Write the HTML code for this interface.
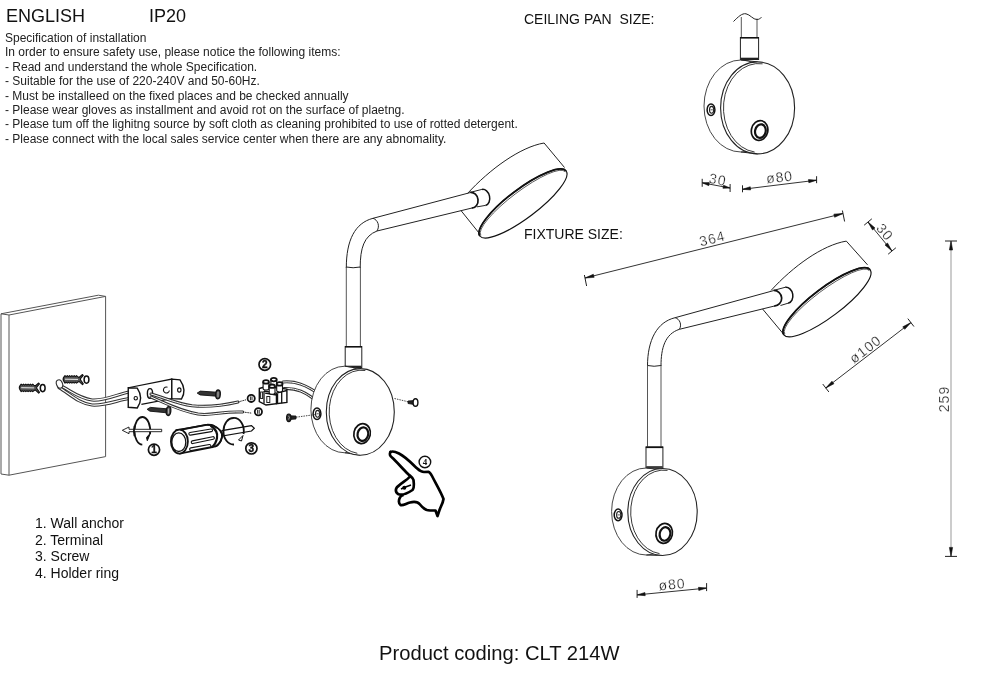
<!DOCTYPE html>
<html><head><meta charset="utf-8">
<style>
html,body{margin:0;padding:0;background:#fff;}
body{width:1000px;height:690px;position:relative;overflow:hidden;font-family:"Liberation Sans",sans-serif;color:#111;}
.t{position:absolute;white-space:nowrap;line-height:1;}
#spec{position:absolute;left:5px;top:31.3px;font-size:12px;line-height:14.4px;color:#222;white-space:pre;}
svg{position:absolute;left:0;top:0;}
.t,#spec,svg{will-change:transform;}
</style></head><body>
<svg width="1000" height="690" viewBox="0 0 1000 690">
<path d="M733.5,21.5 C738,17 742,13 746,13.8 C750,14.5 753,19.5 757,19.6 C759,19.6 760,18.2 761.5,17.5" fill="none" stroke="#222" stroke-width="1"/>
<line x1="741.3" y1="17" x2="741.3" y2="37.5" fill="none" stroke="#444" stroke-width="0.9"/>
<line x1="757" y1="18.5" x2="757" y2="37.5" fill="none" stroke="#444" stroke-width="0.9"/>
<rect x="740.4" y="37.5" width="18.2" height="22" fill="none" stroke="#222" stroke-width="1"/>
<line x1="740.2" y1="37.8" x2="758.8" y2="37.8" stroke="#111" stroke-width="1.6"/>
<line x1="740.7" y1="58.5" x2="758.3" y2="58.5" stroke="#222" stroke-width="1.6"/>
<path d="M741,60 L757.6,61.9 L757.6,153.9 L741,152 Z" fill="#fff" stroke="none"/>
<ellipse cx="741" cy="106" rx="37" ry="46" transform="rotate(0 741 106)" fill="#fff" stroke="#333" stroke-width="0.9"/>
<line x1="741" y1="60" x2="757.6" y2="61.9" fill="none" stroke="#222" stroke-width="1"/>
<line x1="741" y1="152" x2="757.6" y2="153.9" fill="none" stroke="#222" stroke-width="1"/>
<ellipse cx="757.6" cy="107.9" rx="37" ry="46" transform="rotate(0 757.6 107.9)" fill="#fff" stroke="#222" stroke-width="1.1"/>
<path d="M762.6,63.8 A34.9,44.1 0 0 0 754.6,152" fill="none" stroke="#222" stroke-width="0.9"/>
<ellipse cx="711" cy="109.8" rx="3.9" ry="5.8" fill="#fff" stroke="#111" stroke-width="1.5"/>
<ellipse cx="711.6" cy="109.8" rx="2.1" ry="3.4" fill="none" stroke="#222" stroke-width="1.1"/>
<path d="M710.5,109.8 L712.8,109.8" stroke="#222" stroke-width="0.8"/>
<ellipse cx="759.6" cy="130.5" rx="8.2" ry="10" transform="rotate(12 759.6 130.5)" fill="none" stroke="#111" stroke-width="1.7"/>
<ellipse cx="760.5" cy="130.9" rx="5.3" ry="6.8" transform="rotate(12 759.6 130.5)" fill="none" stroke="#111" stroke-width="2.2"/>
<line x1="702.2" y1="182.8" x2="730.1" y2="188" stroke="#333" stroke-width="1"/>
<path d="M702.2,182.8 L708.79,185.66 L709.37,182.51 Z" fill="#111" stroke="#111" stroke-width="0.6"/>
<path d="M730.1,188 L723.51,185.14 L722.93,188.29 Z" fill="#111" stroke="#111" stroke-width="0.6"/>
<line x1="702.2" y1="178.8" x2="702.2" y2="186.8" stroke="#222" stroke-width="1"/>
<line x1="730.1" y1="184" x2="730.1" y2="192" stroke="#222" stroke-width="1"/>
<text x="0" y="0" transform="translate(717.8,179.5) rotate(10.5) scale(1.0,1)" text-anchor="middle" dominant-baseline="central" font-size="14" fill="#1a1a1a" font-family="Liberation Sans" letter-spacing="1.0" stroke="#fff" stroke-width="0.25">30</text>
<line x1="742.5" y1="189.3" x2="816.6" y2="180.2" stroke="#333" stroke-width="1"/>
<path d="M742.5,189.3 L750.64,189.91 L750.25,186.74 Z" fill="#111" stroke="#111" stroke-width="0.6"/>
<path d="M816.6,180.2 L808.46,179.59 L808.85,182.76 Z" fill="#111" stroke="#111" stroke-width="0.6"/>
<line x1="742.5" y1="185.3" x2="742.5" y2="192.3" stroke="#222" stroke-width="1"/>
<line x1="816.6" y1="176.2" x2="816.6" y2="183.2" stroke="#222" stroke-width="1"/>
<text x="0" y="0" transform="translate(779.5,177) rotate(-7) scale(1.0,1)" text-anchor="middle" dominant-baseline="central" font-size="14" fill="#1a1a1a" font-family="Liberation Sans" letter-spacing="1.0" stroke="#fff" stroke-width="0.25">ø80</text>
<path d="M467.5,193.5 C489.5,169.5 520.1,147 544.1,143" fill="none" stroke="#222" stroke-width="1"/>
<line x1="544.1" y1="143" x2="564.5" y2="167.5" fill="none" stroke="#222" stroke-width="1"/>
<line x1="461.2" y1="210.8" x2="479" y2="233" fill="none" stroke="#222" stroke-width="1"/>
<ellipse cx="523" cy="203.5" rx="54" ry="14.5" transform="rotate(-37 523 203.5)" fill="#fff" stroke="#111" stroke-width="1.2"/>
<path d="M479.87,236 A54,14.5 -37 0 1 566.13,171" fill="none" stroke="#111" stroke-width="1.8"/>
<path d="M480.83,235.28 A52.8,12.3 -37 0 1 565.17,171.72" fill="none" stroke="#333" stroke-width="0.8"/>
<line x1="373" y1="218.3" x2="470.2" y2="192.6" fill="none" stroke="#222" stroke-width="1"/>
<line x1="377" y1="231" x2="472" y2="208" fill="none" stroke="#222" stroke-width="1"/>
<path d="M470.2,192.4 L481.9,189.4 M476.8,206.9 L485.5,205.4" fill="none" stroke="#222" stroke-width="1"/>
<path d="M470.2,192.4 A7.94,7.06 84.22 0 1 471.8,208.2" fill="none" stroke="#111" stroke-width="1.7"/>
<path d="M481.9,189.4 A8.2,5.95 77.32 0 1 485.5,205.4" fill="none" stroke="#111" stroke-width="1.5"/>
<path d="M346.3,268 C346.3,240 355,223 373,218.3" fill="none" stroke="#222" stroke-width="1"/>
<path d="M360.2,268 C360.2,248 364,236 377,231" fill="none" stroke="#222" stroke-width="1"/>
<path d="M373,218.3 C378,220 380,226 377,231" fill="none" stroke="#222" stroke-width="1"/>
<path d="M346.3,267 Q353,268.5 360.2,267" fill="none" stroke="#222" stroke-width="1"/>
<line x1="346.3" y1="267" x2="346.3" y2="346" fill="none" stroke="#444" stroke-width="0.9"/>
<line x1="360.4" y1="267" x2="360.4" y2="346" fill="none" stroke="#444" stroke-width="0.9"/>
<rect x="345.2" y="346.5" width="16.6" height="21" fill="none" stroke="#222" stroke-width="1"/>
<line x1="345" y1="346.8" x2="362" y2="346.8" stroke="#111" stroke-width="1.6"/>
<line x1="345.5" y1="366.5" x2="361.5" y2="366.5" stroke="#222" stroke-width="1.6"/>
<path d="M283,382 C295,381 305,384 322,396" fill="none" stroke="#333" stroke-width="3.0" stroke-linecap="round"/>
<path d="M283,382 C295,381 305,384 322,396" fill="none" stroke="#fff" stroke-width="1.0" stroke-linecap="round"/>
<path d="M284,388.5 C296,388 305,391 320,404" fill="none" stroke="#333" stroke-width="3.0" stroke-linecap="round"/>
<path d="M284,388.5 C296,388 305,391 320,404" fill="none" stroke="#fff" stroke-width="1.0" stroke-linecap="round"/>
<path d="M344.9,366.2 L360.3,368.6 L360.3,455.2 L344.9,452.8 Z" fill="#fff" stroke="none"/>
<ellipse cx="344.9" cy="409.5" rx="34" ry="43.3" transform="rotate(0 344.9 409.5)" fill="#fff" stroke="#333" stroke-width="0.9"/>
<line x1="344.9" y1="366.2" x2="360.3" y2="368.6" fill="none" stroke="#222" stroke-width="1"/>
<line x1="344.9" y1="452.8" x2="360.3" y2="455.2" fill="none" stroke="#222" stroke-width="1"/>
<ellipse cx="360.3" cy="411.9" rx="34" ry="43.3" transform="rotate(0 360.3 411.9)" fill="#fff" stroke="#222" stroke-width="1.1"/>
<path d="M365.3,370.5 A31.9,41.4 0 0 0 357.3,453.3" fill="none" stroke="#222" stroke-width="0.9"/>
<ellipse cx="317" cy="413.8" rx="3.9" ry="5.8" fill="#fff" stroke="#111" stroke-width="1.5"/>
<ellipse cx="317.6" cy="413.8" rx="2.1" ry="3.4" fill="none" stroke="#222" stroke-width="1.1"/>
<path d="M316.5,413.8 L318.8,413.8" stroke="#222" stroke-width="0.8"/>
<ellipse cx="362.1" cy="433.6" rx="8.2" ry="10" transform="rotate(12 362.1 433.6)" fill="none" stroke="#111" stroke-width="1.7"/>
<ellipse cx="363" cy="434" rx="5.3" ry="6.8" transform="rotate(12 362.1 433.6)" fill="none" stroke="#111" stroke-width="2.2"/>
<path d="M771.1,290.4 C793.1,266.4 822.3,245.1 846.3,241.1" fill="none" stroke="#222" stroke-width="1"/>
<line x1="846.3" y1="241.1" x2="867.5" y2="264.8" fill="none" stroke="#222" stroke-width="1"/>
<line x1="762.5" y1="308.9" x2="784.7" y2="335.5" fill="none" stroke="#222" stroke-width="1"/>
<ellipse cx="827" cy="302.3" rx="54" ry="14.5" transform="rotate(-37 827 302.3)" fill="#fff" stroke="#111" stroke-width="1.2"/>
<path d="M783.87,334.8 A54,14.5 -37 0 1 870.13,269.8" fill="none" stroke="#111" stroke-width="1.8"/>
<path d="M784.83,334.08 A52.8,12.3 -37 0 1 869.17,270.52" fill="none" stroke="#333" stroke-width="0.8"/>
<line x1="675.1" y1="317.7" x2="773.6" y2="290.6" fill="none" stroke="#222" stroke-width="1"/>
<line x1="679.4" y1="329.3" x2="774.1" y2="306.1" fill="none" stroke="#222" stroke-width="1"/>
<path d="M773.6,290.4 L785.2,287.3 M780.5,305.5 L788.1,303.2" fill="none" stroke="#222" stroke-width="1"/>
<path d="M773.6,290.4 A7.85,7.83 88.18 0 1 774.1,306.1" fill="none" stroke="#111" stroke-width="1.7"/>
<path d="M785.2,287.3 A8.08,6.17 79.66 0 1 788.1,303.2" fill="none" stroke="#111" stroke-width="1.5"/>
<path d="M647.5,366 C647.5,340 657,322 675.1,317.7" fill="none" stroke="#222" stroke-width="1"/>
<path d="M661,366 C661,348 665,334 679.4,329.3" fill="none" stroke="#222" stroke-width="1"/>
<path d="M675.1,317.7 C680,319 682,325 679.4,329.3" fill="none" stroke="#222" stroke-width="1"/>
<path d="M647.5,365.5 Q654,367 661,365.5" fill="none" stroke="#222" stroke-width="1"/>
<line x1="647.5" y1="365" x2="647.5" y2="446.7" fill="none" stroke="#444" stroke-width="0.9"/>
<line x1="661" y1="365" x2="661" y2="446.7" fill="none" stroke="#444" stroke-width="0.9"/>
<rect x="646" y="447" width="16.9" height="21.2" fill="none" stroke="#222" stroke-width="1"/>
<line x1="645.8" y1="447.3" x2="663.1" y2="447.3" stroke="#111" stroke-width="1.6"/>
<line x1="646.3" y1="467" x2="662.6" y2="467" stroke="#222" stroke-width="1.6"/>
<path d="M646.3,468 L662.5,468.5 L662.5,555.5 L646.3,555 Z" fill="#fff" stroke="none"/>
<ellipse cx="646.3" cy="511.5" rx="34.7" ry="43.5" transform="rotate(0 646.3 511.5)" fill="#fff" stroke="#333" stroke-width="0.9"/>
<line x1="646.3" y1="468" x2="662.5" y2="468.5" fill="none" stroke="#222" stroke-width="1"/>
<line x1="646.3" y1="555" x2="662.5" y2="555.5" fill="none" stroke="#222" stroke-width="1"/>
<ellipse cx="662.5" cy="512" rx="34.7" ry="43.5" transform="rotate(0 662.5 512)" fill="#fff" stroke="#222" stroke-width="1.1"/>
<path d="M667.5,470.4 A32.6,41.6 0 0 0 659.5,553.6" fill="none" stroke="#222" stroke-width="0.9"/>
<ellipse cx="618.1" cy="514.9" rx="3.9" ry="5.8" fill="#fff" stroke="#111" stroke-width="1.5"/>
<ellipse cx="618.7" cy="514.9" rx="2.1" ry="3.4" fill="none" stroke="#222" stroke-width="1.1"/>
<path d="M617.6,514.9 L619.9,514.9" stroke="#222" stroke-width="0.8"/>
<ellipse cx="664.2" cy="533.4" rx="8.2" ry="10" transform="rotate(12 664.2 533.4)" fill="none" stroke="#111" stroke-width="1.7"/>
<ellipse cx="665.1" cy="533.8" rx="5.3" ry="6.8" transform="rotate(12 664.2 533.4)" fill="none" stroke="#111" stroke-width="2.2"/>
<line x1="585" y1="278" x2="843" y2="213.5" stroke="#333" stroke-width="1"/>
<path d="M585,278 L594.12,277.37 L593.34,274.26 Z" fill="#111" stroke="#111" stroke-width="0.6"/>
<path d="M843,213.5 L833.88,214.13 L834.66,217.24 Z" fill="#111" stroke="#111" stroke-width="0.6"/>
<line x1="584.4" y1="275" x2="586.6" y2="286" stroke="#222" stroke-width="1"/>
<line x1="842.4" y1="210.5" x2="844.6" y2="221.5" stroke="#222" stroke-width="1"/>
<text x="0" y="0" transform="translate(712.2,238.5) rotate(-14) scale(1.0,1)" text-anchor="middle" dominant-baseline="central" font-size="14" fill="#1a1a1a" font-family="Liberation Sans" letter-spacing="1.0" stroke="#fff" stroke-width="0.25">364</text>
<line x1="868" y1="222" x2="892" y2="251" stroke="#333" stroke-width="1"/>
<path d="M868,222 L872.51,229.95 L874.97,227.91 Z" fill="#111" stroke="#111" stroke-width="0.6"/>
<path d="M892,251 L887.49,243.05 L885.03,245.09 Z" fill="#111" stroke="#111" stroke-width="0.6"/>
<line x1="871.85" y1="218.81" x2="864.15" y2="225.19" stroke="#222" stroke-width="1"/>
<line x1="895.85" y1="247.81" x2="888.15" y2="254.19" stroke="#222" stroke-width="1"/>
<text x="0" y="0" transform="translate(885,232) rotate(50) scale(1.0,1)" text-anchor="middle" dominant-baseline="central" font-size="14" fill="#1a1a1a" font-family="Liberation Sans" letter-spacing="1.0" stroke="#fff" stroke-width="0.25">30</text>
<line x1="825.8" y1="388" x2="910.9" y2="322.6" stroke="#333" stroke-width="1"/>
<path d="M825.8,388 L833.91,383.78 L831.96,381.25 Z" fill="#111" stroke="#111" stroke-width="0.6"/>
<path d="M910.9,322.6 L902.79,326.82 L904.74,329.35 Z" fill="#111" stroke="#111" stroke-width="0.6"/>
<line x1="822.75" y1="384.04" x2="828.85" y2="391.96" stroke="#222" stroke-width="1"/>
<line x1="907.85" y1="318.64" x2="913.95" y2="326.56" stroke="#222" stroke-width="1"/>
<text x="0" y="0" transform="translate(865.3,349.1) rotate(-37.5) scale(1.0,1)" text-anchor="middle" dominant-baseline="central" font-size="14" fill="#1a1a1a" font-family="Liberation Sans" letter-spacing="1.0" stroke="#fff" stroke-width="0.25">ø100</text>
<line x1="951" y1="241" x2="951" y2="556.4" stroke="#999" stroke-width="1"/>
<path d="M951,241 L949.4,250 L952.6,250 Z" fill="#111" stroke="#111" stroke-width="0.6"/>
<path d="M951,556.4 L952.6,547.4 L949.4,547.4 Z" fill="#111" stroke="#111" stroke-width="0.6"/>
<line x1="945" y1="241" x2="957" y2="241" stroke="#222" stroke-width="1"/>
<line x1="945" y1="556.4" x2="957" y2="556.4" stroke="#222" stroke-width="1"/>
<text x="0" y="0" transform="translate(944.1,399) rotate(-90) scale(1.0,1)" text-anchor="middle" dominant-baseline="central" font-size="14" fill="#1a1a1a" font-family="Liberation Sans" letter-spacing="1.0" stroke="#fff" stroke-width="0.25">259</text>
<line x1="637.1" y1="594.9" x2="706.6" y2="588.1" stroke="#333" stroke-width="1"/>
<path d="M637.1,594.9 L645.22,595.71 L644.91,592.53 Z" fill="#111" stroke="#111" stroke-width="0.6"/>
<path d="M706.6,588.1 L698.48,587.29 L698.79,590.47 Z" fill="#111" stroke="#111" stroke-width="0.6"/>
<line x1="637.1" y1="589.9" x2="637.1" y2="597.9" stroke="#222" stroke-width="1"/>
<line x1="706.6" y1="583.1" x2="706.6" y2="591.1" stroke="#222" stroke-width="1"/>
<text x="0" y="0" transform="translate(672,584.2) rotate(-5.5) scale(1.0,1)" text-anchor="middle" dominant-baseline="central" font-size="14" fill="#1a1a1a" font-family="Liberation Sans" letter-spacing="1.0" stroke="#fff" stroke-width="0.25">ø80</text>
<path d="M1,313.8 L98.4,295.2 L105.6,296.4 L9,315 Z" fill="none" stroke="#555" stroke-width="1"/>
<path d="M1,313.8 L1,474 L9,475.2 L105.6,456.6 L105.6,296.4" fill="none" stroke="#555" stroke-width="1"/>
<line x1="9" y1="315" x2="9" y2="475.2" fill="none" stroke="#555" stroke-width="1"/>
<path d="M20.2,385.3 L21.2,384.1 L22.35,385.1 L23.5,384.1 L24.65,385.1 L25.8,384.1 L26.95,385.1 L28.1,384.1 L29.25,385.1 L30.4,384.1 L31.55,385.1 L32.7,384.1 L33.85,385.1 L35.2,386 L38.7,383 L39.5,384 L36.7,387.2 L36.7,388.4 L39.5,392.3 L38.7,393.1 L35.2,389.9 L33.85,390.7 L32.7,391.6 L31.55,390.7 L30.4,391.6 L29.25,390.7 L28.1,391.6 L26.95,390.7 L25.8,391.6 L24.65,390.7 L23.5,391.6 L22.35,390.7 L21.2,391.6 L20.2,390.1 Q18.4,387.7 20.2,385.3 Z" fill="#555" stroke="#111" stroke-width="1.1" stroke-linejoin="round"/>
<path d="M21.2,387.7 L34.2,387.9" stroke="#eee" stroke-width="1"/>
<ellipse cx="42.7" cy="388.1" rx="2.4" ry="3.6" fill="#fff" stroke="#111" stroke-width="1.5"/>
<path d="M64,376.8 L65,375.6 L66.15,376.6 L67.3,375.6 L68.45,376.6 L69.6,375.6 L70.75,376.6 L71.9,375.6 L73.05,376.6 L74.2,375.6 L75.35,376.6 L76.5,375.6 L77.65,376.6 L79,377.5 L82.5,374.5 L83.3,375.5 L80.5,378.7 L80.5,379.9 L83.3,383.8 L82.5,384.6 L79,381.4 L77.65,382.2 L76.5,383.1 L75.35,382.2 L74.2,383.1 L73.05,382.2 L71.9,383.1 L70.75,382.2 L69.6,383.1 L68.45,382.2 L67.3,383.1 L66.15,382.2 L65,383.1 L64,381.6 Q62.2,379.2 64,376.8 Z" fill="#555" stroke="#111" stroke-width="1.1" stroke-linejoin="round"/>
<path d="M65,379.2 L78,379.4" stroke="#eee" stroke-width="1"/>
<ellipse cx="86.5" cy="379.6" rx="2.4" ry="3.6" fill="#fff" stroke="#111" stroke-width="1.5"/>
<path d="M59,385 C70,390 78,398 92,400 C105,401 118,394 129,392" fill="none" stroke="#333" stroke-width="3.2" stroke-linecap="round"/>
<path d="M59,385 C70,390 78,398 92,400 C105,401 118,394 129,392" fill="none" stroke="#fff" stroke-width="1.2000000000000002" stroke-linecap="round"/>
<path d="M59,387.5 C70,394 78,403 92,405 C105,406 118,400 129,398.5" fill="none" stroke="#333" stroke-width="3.2" stroke-linecap="round"/>
<path d="M59,387.5 C70,394 78,403 92,405 C105,406 118,400 129,398.5" fill="none" stroke="#fff" stroke-width="1.2000000000000002" stroke-linecap="round"/>
<ellipse cx="59.5" cy="384" rx="3" ry="4.3" transform="rotate(-20 59.5 384)" fill="#fff" stroke="#333" stroke-width="1.1"/>
<path d="M128.25,387.75 L171.8,379.1 L171.8,398.6 L141.4,404.3" fill="#fff" stroke="#111" stroke-width="1.2"/>
<path d="M128.25,387.75 L137.25,388.1 Q144,398 137.25,408 L128.25,407.3 Z" fill="#fff" stroke="#111" stroke-width="1.4"/>
<path d="M171.8,379.1 L180,379.9 Q187,390 181.5,399 L171.8,398.6 Z" fill="#fff" stroke="#111" stroke-width="1.4"/>
<circle cx="135.75" cy="398.25" r="1.7" fill="none" stroke="#111" stroke-width="1.1"/>
<ellipse cx="179.3" cy="390" rx="1.7" ry="2.1" fill="none" stroke="#111" stroke-width="1.1"/>
<ellipse cx="150" cy="393.4" rx="2.6" ry="4.8" fill="#fff" stroke="#111" stroke-width="1.4"/>
<path d="M167.5,387.2 A3,3 0 1 0 169.4,390.5" fill="none" stroke="#111" stroke-width="1.1"/>
<path d="M151,394 C165,398 178,404 192,405.8 C210,407.5 225,405 238,402" fill="none" stroke="#333" stroke-width="3.0" stroke-linecap="round"/>
<path d="M151,394 C165,398 178,404 192,405.8 C210,407.5 225,405 238,402" fill="none" stroke="#fff" stroke-width="1.0" stroke-linecap="round"/>
<path d="M151,397 C165,403 180,411 198,414 C212,416 222,411 242.8,412" fill="none" stroke="#333" stroke-width="3.0" stroke-linecap="round"/>
<path d="M151,397 C165,403 180,411 198,414 C212,416 222,411 242.8,412" fill="none" stroke="#fff" stroke-width="1.0" stroke-linecap="round"/>
<path d="M238,402 L246,399.8" stroke="#222" stroke-width="1" stroke-dasharray="1.5,0.8"/>
<path d="M242.8,412 L252,413.2" stroke="#222" stroke-width="1" stroke-dasharray="1.5,0.8"/>
<circle cx="251.2" cy="398.4" r="3.6" fill="#fff" stroke="#111" stroke-width="1.8"/>
<path d="M250.4,396.4 L250.4,400.4 M252,396.4 L252,400.4" stroke="#111" stroke-width="0.9"/>
<circle cx="258.4" cy="411.8" r="3.6" fill="#fff" stroke="#111" stroke-width="1.8"/>
<path d="M257.6,409.8 L257.6,413.8 M259.2,409.8 L259.2,413.8" stroke="#111" stroke-width="0.9"/>
<path d="M197.2,393.1 L200.06,394.91 L216.36,396.18 L216.65,392.19 L200.33,391.12 Z" fill="#333" stroke="#111" stroke-width="0.9" stroke-linejoin="round"/>
<ellipse cx="218" cy="394.4" rx="2.3" ry="4.4" transform="rotate(4.1 218 394.4)" fill="#555" stroke="#111" stroke-width="1.3"/>
<path d="M218,391.9 L218,396.9" stroke="#eee" stroke-width="0.6"/>
<path d="M147.1,409.3 L149.91,411.17 L166.83,412.82 L167.2,408.83 L150.26,407.38 Z" fill="#333" stroke="#111" stroke-width="0.9" stroke-linejoin="round"/>
<ellipse cx="168.5" cy="411.1" rx="2.3" ry="4.4" transform="rotate(5.24 168.5 411.1)" fill="#555" stroke="#111" stroke-width="1.3"/>
<path d="M168.5,408.6 L168.5,413.6" stroke="#eee" stroke-width="0.6"/>
<path d="M259.3,388.5 L266,386.5 L286.9,389 L286.9,402.5 L266,405 L259.3,401.5 Z" fill="#fff" stroke="#111" stroke-width="1.4"/>
<path d="M264,391 L264,403.5 M264,391 L276.4,393.2 L276.4,404.2 M276.4,393.2 L286.9,390.5 M281.7,391.5 L281.7,403.2 M265.1,393.2 L276.4,395" fill="none" stroke="#111" stroke-width="1.3"/>
<path d="M277.2,393.5 L277.2,404" stroke="#111" stroke-width="2"/>
<rect x="260.6" y="392" width="2" height="6.5" fill="none" stroke="#222" stroke-width="1"/>
<rect x="266.8" y="396.5" width="3" height="6" fill="none" stroke="#222" stroke-width="1"/>
<path d="M270.9,379.6 L270.9,386.1 A2.9,1.6 0 0 0 276.7,386.1 L276.7,379.6" fill="#fff" stroke="#111" stroke-width="1.1"/>
<ellipse cx="273.8" cy="379.6" rx="2.9" ry="1.7" fill="#fff" stroke="#111" stroke-width="1.8"/>
<path d="M263.1,381.9 L263.1,388.4 A2.9,1.6 0 0 0 268.9,388.4 L268.9,381.9" fill="#fff" stroke="#111" stroke-width="1.1"/>
<ellipse cx="266" cy="381.9" rx="2.9" ry="1.7" fill="#fff" stroke="#111" stroke-width="1.8"/>
<path d="M276.7,383.9 L276.7,390.4 A2.9,1.6 0 0 0 282.5,390.4 L282.5,383.9" fill="#fff" stroke="#111" stroke-width="1.1"/>
<ellipse cx="279.6" cy="383.9" rx="2.9" ry="1.7" fill="#fff" stroke="#111" stroke-width="1.8"/>
<path d="M269.2,386.2 L269.2,392.7 A2.9,1.6 0 0 0 275,392.7 L275,386.2" fill="#fff" stroke="#111" stroke-width="1.1"/>
<ellipse cx="272.1" cy="386.2" rx="2.9" ry="1.7" fill="#fff" stroke="#111" stroke-width="1.8"/>
<circle cx="264.8" cy="364.5" r="5.8" fill="#fff" stroke="#111" stroke-width="1.7"/>
<text x="264.8" y="368.1" text-anchor="middle" font-size="10" font-weight="bold" fill="#111" stroke="#111" stroke-width="0.4" font-family="Liberation Sans">2</text>
<line x1="296" y1="417.2" x2="315" y2="414.6" stroke="#333" stroke-width="0.9" stroke-dasharray="1.5,1"/>
<path d="M289.5,415.8 L296,416 L296,419 L289.5,419.5 Z" fill="#222" stroke="#111" stroke-width="0.8"/>
<ellipse cx="288.8" cy="417.8" rx="2.2" ry="3.8" fill="#333" stroke="#111" stroke-width="1.2"/>
<path d="M288.5,415.8 L289.5,417.5 L288.5,419.5" fill="none" stroke="#ddd" stroke-width="0.6"/>
<line x1="394.5" y1="398.5" x2="410" y2="402.2" stroke="#333" stroke-width="0.9" stroke-dasharray="1.5,1"/>
<path d="M408,401 L414,400.5 L414,404.5 L408,403.5 Z" fill="#222" stroke="#111" stroke-width="0.8"/>
<ellipse cx="415.5" cy="402.5" rx="2.4" ry="3.8" fill="#fff" stroke="#111" stroke-width="1.4"/>
<path d="M142.3,444.7 A8,13.7 0 0 1 142.7,417 A8,13.7 0 0 1 150,434" fill="none" stroke="#111" stroke-width="1.8"/>
<path d="M150.5,433 L147.3,440.7 L146.5,437.5 Z" fill="#111" stroke="#111" stroke-width="1"/>
<path d="M161.7,429.3 L129,429.3 L129,427 L122.3,430.3 L129,433.7 L129,431.7 L161.7,431.7 Z" fill="#fff" stroke="#111" stroke-width="0.9"/>
<path d="M134.5,426 A8,13.7 0 0 0 134.5,436" fill="none" stroke="#111" stroke-width="1.8"/>
<circle cx="154" cy="449.7" r="5.6" fill="#fff" stroke="#111" stroke-width="1.7"/>
<text x="154" y="453.3" text-anchor="middle" font-size="10" font-weight="bold" fill="#111" stroke="#111" stroke-width="0.4" font-family="Liberation Sans">1</text>
<path d="M251.5,425.6 L222,430.6 L222,436 L251.5,431 L254.3,428.3 Z" fill="#fff" stroke="#111" stroke-width="1.2"/>
<path d="M175.8,430.5 L206.4,424.8 Q211,424.6 213.6,425.7 Q223,430 222,437 Q220.5,444 215.4,446.5 L210,447.6 L180,453.5 Z" fill="#fff" stroke="#111" stroke-width="1.6"/>
<path d="M213.6,425.7 Q223,430 222,437 Q220.5,444 215.4,446.5" fill="none" stroke="#111" stroke-width="1.8"/>
<path d="M210.5,425.5 Q218.5,431 217,438 Q216,444 211.5,447.5" fill="none" stroke="#111" stroke-width="2.2"/>
<path d="M190.2,433.8 L211.2,430.3" fill="none" stroke="#111" stroke-width="3.8" stroke-linecap="round"/>
<path d="M190.2,433.8 L211.2,430.3" fill="none" stroke="#fff" stroke-width="1.6" stroke-linecap="round"/>
<path d="M192.6,442.2 L213,438" fill="none" stroke="#111" stroke-width="3.8" stroke-linecap="round"/>
<path d="M192.6,442.2 L213,438" fill="none" stroke="#fff" stroke-width="1.6" stroke-linecap="round"/>
<path d="M191,449.2 L209.5,445.8" fill="none" stroke="#111" stroke-width="3.8" stroke-linecap="round"/>
<path d="M191,449.2 L209.5,445.8" fill="none" stroke="#fff" stroke-width="1.6" stroke-linecap="round"/>
<path d="M175.8,430.5 L206.4,424.8 Q211,424.6 213.6,425.7" fill="none" stroke="#111" stroke-width="1.8"/>
<ellipse cx="179.4" cy="441.6" rx="8.5" ry="12" fill="#fff" stroke="#111" stroke-width="1.8"/>
<ellipse cx="178.8" cy="442.2" rx="7" ry="9.3" fill="none" stroke="#111" stroke-width="1.3"/>
<path d="M233.5,418 A10,13 0 0 0 223.5,431 A10,13 0 0 0 234,444.5" fill="none" stroke="#111" stroke-width="1.8"/>
<path d="M233,418 A10,13 0 0 1 243.5,434" fill="none" stroke="#111" stroke-width="1.8"/>
<path d="M243,435.5 L241.5,441 L238.5,440 Z" fill="#fff" stroke="#111" stroke-width="1"/>
<circle cx="251.4" cy="448.4" r="5.6" fill="#fff" stroke="#111" stroke-width="1.7"/>
<text x="251.4" y="452" text-anchor="middle" font-size="10" font-weight="bold" fill="#111" stroke="#111" stroke-width="0.4" font-family="Liberation Sans">3</text>
<path d="M390.5,452 C389,454 390,456 392,457.5 C396,461 402,468 407.5,473.5 C410,476 413,477.5 413.5,480 C414,484 414.5,488 412.5,490 C408,493 402,496 398,494 C395,492 395,488 399,485.5 C403,482 407,480 409.5,477" fill="none" stroke="#000" stroke-width="2.7" stroke-linecap="round" stroke-linejoin="round"/>
<path d="M390.5,452 C393,450.5 396,452 399,453.5 C404,456 410,461.5 415,466.5 C419,470 420,472 424,472 L428.5,471.8 C430,472 431,474 432,476 C436,484 441,492 443.5,499 C443,503 441,506 439.5,510 L437.5,516 L435.5,510.5 L430,510.5 C425,510.5 422,507 420,504.5 C418,502 414,501.5 410,502.5 C406,503.5 403,506 400.5,505 C398.5,503.5 398.5,500 400,497.5 C401,496 402,495.5 402.5,495.5" fill="none" stroke="#000" stroke-width="2.7" stroke-linecap="round" stroke-linejoin="round"/>
<path d="M401,489 C404,487.5 408,486 411,485" fill="none" stroke="#000" stroke-width="1.5"/>
<circle cx="404.3" cy="487.8" r="2" fill="#000"/>
<circle cx="424.9" cy="462" r="5.8" fill="#fff" stroke="#111" stroke-width="1.4"/>
<text x="424.9" y="465.3" text-anchor="middle" font-size="9" font-weight="bold" fill="#111" font-family="Liberation Serif">4</text>
</svg>
<div class="t" id="eng" style="left:5.5px;top:6.6px;font-size:18px;">ENGLISH</div>
<div class="t" id="ip" style="left:149px;top:6.6px;font-size:18px;">IP20</div>
<div id="spec">Specification of installation
In order to ensure safety use, please notice the following items:
- Read and understand the whole Specification.
- Suitable for the use of 220-240V and 50-60Hz.
- Must be installeed on the fixed places and be checked annually
- Please wear gloves as installment and avoid rot on the surface of plaetng.
- Please tum off the lighitng source by soft cloth as cleaning prohibited to use of rotted detergent.
- Please connect with the local sales service center when there are any abnomality.</div>
<div class="t" id="ceil" style="left:523.5px;top:12.2px;font-size:14px;">CEILING PAN&nbsp; SIZE:</div>
<div class="t" id="fix" style="left:523.5px;top:226.9px;font-size:14px;">FIXTURE SIZE:</div>
<div class="t" id="leg" style="left:35px;top:515.2px;font-size:14px;line-height:16.7px;white-space:pre;">1. Wall anchor
2. Terminal
3. Screw
4. Holder ring</div>
<div class="t" id="prod" style="left:379.3px;top:642.6px;font-size:20.2px;">Product coding: CLT 214W</div>
</body></html>
